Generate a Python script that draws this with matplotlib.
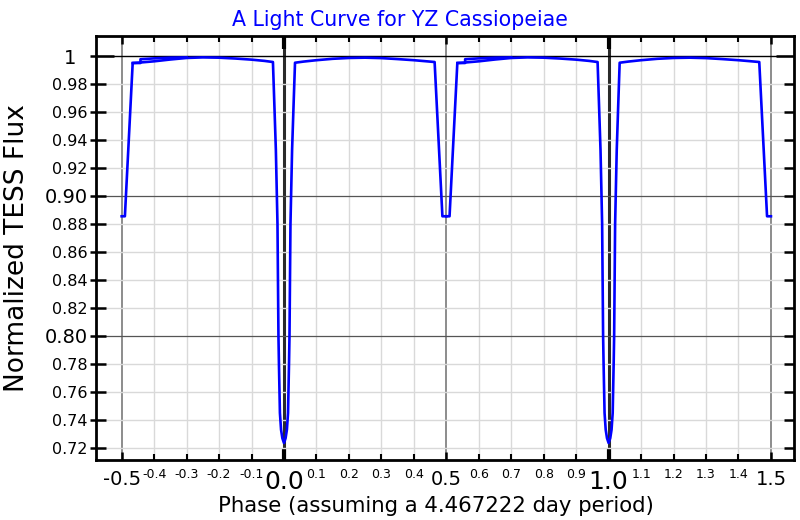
import matplotlib
matplotlib.use('Agg')
import matplotlib.pyplot as plt
import numpy as np

# one folded cycle of the light curve, phase -0.5 .. 0.5
phase_cycle = [-0.500, -0.490, -0.466, -0.445, -0.400, -0.350, -0.300, -0.250, -0.200,
               -0.150, -0.100, -0.060, -0.034, -0.030, -0.025, -0.020, -0.017, -0.0155,
               -0.0125, -0.009, -0.005, 0.000, 0.005, 0.009, 0.0125, 0.0155, 0.017,
               0.020, 0.025, 0.030, 0.034, 0.060, 0.100, 0.150, 0.200, 0.250, 0.300,
               0.350, 0.400, 0.440, 0.464, 0.488, 0.500]
flux_cycle = [0.8855, 0.8855, 0.9950, 0.9953, 0.9962, 0.9975, 0.9986, 0.9990, 0.9988,
              0.9982, 0.9974, 0.9965, 0.9957, 0.968, 0.933, 0.880, 0.800, 0.780,
              0.745, 0.733, 0.727, 0.7235, 0.727, 0.733, 0.745, 0.780, 0.800,
              0.880, 0.933, 0.968, 0.9952, 0.9960, 0.9970, 0.9980, 0.9986, 0.9988, 0.9985,
              0.9978, 0.9970, 0.9962, 0.9957, 0.8855, 0.8855]

# second (upper) trace just after the secondary eclipse
phase_upper = [-0.466, -0.442, -0.442, -0.400, -0.350, -0.300]
flux_upper = [0.9950, 0.9950, 0.9977, 0.9983, 0.9988, 0.9990]

cycle_shifts = [0, 1]  # the folded curve is shown twice

x_major = [-0.5, 0.0, 0.5, 1.0, 1.5]
x_major_labels = ['-0.5', '0.0', '0.5', '1.0', '1.5']
x_minor = [-0.4, -0.3, -0.2, -0.1, 0.1, 0.2, 0.3, 0.4, 0.6, 0.7, 0.8, 0.9,
           1.1, 1.2, 1.3, 1.4]
x_minor_labels = ['-0.4', '-0.3', '-0.2', '-0.1', '0.1', '0.2', '0.3', '0.4',
                  '0.6', '0.7', '0.8', '0.9', '1.1', '1.2', '1.3', '1.4']
y_major = [0.80, 0.90, 1.00]
y_major_labels = ['0.80', '0.90', '1']
y_minor = [0.72, 0.74, 0.76, 0.78, 0.82, 0.84, 0.86, 0.88, 0.92, 0.94, 0.96, 0.98]
y_minor_labels = ['0.72', '0.74', '0.76', '0.78', '0.82', '0.84', '0.86', '0.88',
                  '0.92', '0.94', '0.96', '0.98']

fig = plt.figure(figsize=(8, 5.2), dpi=100)
ax = fig.add_axes([0.12, 0.1154, 0.8725, 0.8154])

for s in cycle_shifts:
    ax.plot(np.array(phase_cycle) + s, flux_cycle, color='#0000ff', lw=1.9)
    ax.plot(np.array(phase_upper) + s, flux_upper, color='#0000ff', lw=1.9)

ax.set_xlim(-0.579, 1.571)
ax.set_ylim(0.7114, 1.0143)

ax.set_xticks(x_major, labels=x_major_labels)
ax.set_xticks(x_minor, labels=x_minor_labels, minor=True)
ax.set_yticks(y_major, labels=y_major_labels)
ax.set_yticks(y_minor, labels=y_minor_labels, minor=True)

ax.tick_params(axis='x', which='major', direction='in', top=True, bottom=True,
               length=6, width=1.8, labelsize=14, pad=7.5)
ax.tick_params(axis='x', which='minor', direction='in', top=True, bottom=True,
               length=4, width=1.5, labelsize=9, pad=6)
ax.tick_params(axis='y', which='both', direction='in', left=True, right=True,
               length=7, width=1.8)
ax.tick_params(axis='y', which='major', labelsize=14, pad=6)
ax.tick_params(axis='y', which='minor', labelsize=11.5, pad=6)

# short outward stubs on the left axis
stub = ax.secondary_yaxis('left')
stub.set_yticks(y_major + y_minor)
stub.tick_params(direction='out', length=4.5, width=1.8, labelleft=False)
stub.spines['left'].set_visible(False)

ax.grid(which='minor', color='#d9d9d9', lw=1.0)
ax.grid(which='major', axis='x', color='#8c8c8c', lw=1.4)
ax.grid(which='major', axis='y', color='#555555', lw=0.9)

for tick, lbl in zip(ax.xaxis.get_major_ticks(), x_major_labels):
    if lbl in ('0.0', '1.0'):
        tick.label1.set_fontsize(18)
        for ln in (tick.tick1line, tick.tick2line):
            ln.set_markersize(9)
            ln.set_markeredgewidth(3)
        tick.gridline.set_color('#2a2a2a')
        tick.gridline.set_linewidth(2.2)

for tick, lbl in zip(ax.yaxis.get_major_ticks(), y_major_labels):
    if lbl == '1':
        tick.set_pad(14)
        for ln in (tick.tick1line, tick.tick2line):
            ln.set_markersize(13)
        tick.gridline.set_color('black')
        tick.gridline.set_linewidth(1.0)

for sp in ax.spines.values():
    sp.set_linewidth(2)

ax.set_title('A Light Curve for YZ Cassiopeiae', color='#0000ff', fontsize=14.8,
             pad=7, x=0.4355)
ax.set_xlabel('Phase (assuming a 4.467222 day period)', fontsize=15.3)
ax.set_ylabel('Normalized TESS Flux', fontsize=19)
ax.xaxis.set_label_coords(0.487, -0.084)
ax.yaxis.set_label_coords(-0.095, 0.5)

fig.savefig('out.png', dpi=100)
